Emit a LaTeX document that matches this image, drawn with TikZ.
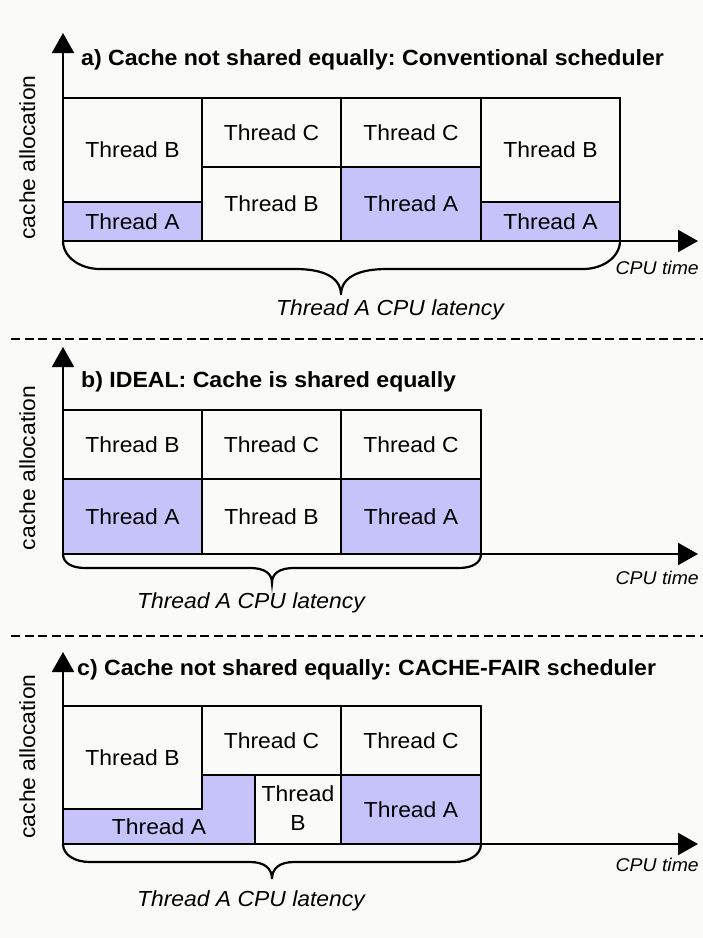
\documentclass[tikz,border=0pt]{standalone}
\usepackage{fontspec}
\setmainfont{Liberation Sans}[FakeStretch=1.05]
\usetikzlibrary{arrows.meta}
\definecolor{bgpaper}{RGB}{250,250,248}
\definecolor{cachefill}{RGB}{198,195,250}
\frenchspacing
\begin{document}
\begin{tikzpicture}[x=1pt,y=-1pt,
  slot/.style={draw=black, line width=2.2pt},
  afill/.style={fill=cachefill},
  lbl/.style={font=\fontsize{21.8}{29}\selectfont, inner sep=0pt, align=center},
  ttl/.style={font=\fontsize{22}{26}\selectfont\bfseries, anchor=base west, inner sep=0pt},
  ylbl/.style={font=\fontsize{21.8}{26}\selectfont, rotate=90, anchor=base, inner sep=0pt},
  tlbl/.style={font=\fontsize{18.5}{22}\selectfont\itshape, anchor=east, inner sep=0pt},
  latlbl/.style={font=\fontsize{21.8}{26}\selectfont\itshape, inner sep=0pt},
  axis/.style={line width=2.2pt, -{Triangle[length=20pt,width=22pt]}},
  bracepath/.style={line width=2.2pt},
  sep/.style={line width=2.2pt, dash pattern=on 9pt off 4.5pt}
]
\useasboundingbox (0,0) rectangle (703,938);
\fill[bgpaper] (0,0) rectangle (703,938);

% ---------- a) conventional scheduler ----------
\draw[slot] (63,98) rectangle (202,202);
\draw[slot,afill] (63,202) rectangle (202,241);
\draw[slot] (202,98) rectangle (341,167);
\draw[slot] (202,167) rectangle (341,241);
\draw[slot] (341,98) rectangle (481,167);
\draw[slot,afill] (341,167) rectangle (481,241);
\draw[slot] (481,98) rectangle (620,202);
\draw[slot,afill] (481,202) rectangle (620,241);

\node[lbl] (aB1) at (132.5,150) {Thread B};
\node[lbl] (aA1) at (132.5,221.5) {Thread A};
\node[lbl] (aC2) at (271.5,132.5) {Thread C};
\node[lbl] (aB2) at (271.5,204) {Thread B};
\node[lbl] (aC3) at (411,132.5) {Thread C};
\node[lbl] (aA3) at (411,204) {Thread A};
\node[lbl] (aB4) at (550.5,150) {Thread B};
\node[lbl] (aA4) at (550.5,221.5) {Thread A};

\coordinate (aO) at (63,241);
\coordinate (aY) at (63,33);
\coordinate (aX) at (698,241);
\draw[axis] (aO) -- (aY);
\draw[axis] (aO) -- (aX);

\node[ttl] (aT) at (81,65.5) {a) Cache not shared equally: Conventional scheduler};
\node[ylbl] (aYL) at (35,157.5) {cache allocation};
\node[tlbl] (aCT) at (699,268) {CPU time};

\draw[bracepath] (63,241) .. controls (63,257) and (80,269) .. (100,269) -- (295,269)
  .. controls (325,269) and (341,278) .. (341,295)
  .. controls (341,278) and (357,269) .. (387,269) -- (583,269)
  .. controls (603,269) and (620,257) .. (620,241);
\node[latlbl] (aLat) at (390,310) {Thread A CPU latency};

\draw[sep] (11,339) -- (703,339);

% ---------- b) ideal sharing ----------
\draw[slot] (63,410) rectangle (202,479);
\draw[slot,afill] (63,479) rectangle (202,554);
\draw[slot] (202,410) rectangle (341,479);
\draw[slot] (202,479) rectangle (341,554);
\draw[slot] (341,410) rectangle (481,479);
\draw[slot,afill] (341,479) rectangle (481,554);

\node[lbl] (bB1) at (132.5,444.5) {Thread B};
\node[lbl] (bA1) at (132.5,516.5) {Thread A};
\node[lbl] (bC2) at (271.5,444.5) {Thread C};
\node[lbl] (bB2) at (271.5,516.5) {Thread B};
\node[lbl] (bC3) at (411,444.5) {Thread C};
\node[lbl] (bA3) at (411,516.5) {Thread A};

\coordinate (bO) at (63,554);
\coordinate (bY) at (63,347);
\coordinate (bX) at (698,554);
\draw[axis] (bO) -- (bY);
\draw[axis] (bO) -- (bX);

\node[ttl] (bT) at (81,387) {b) IDEAL: Cache is shared equally};
\node[ylbl] (bYL) at (35,468) {cache allocation};
\node[tlbl] (bCT) at (699,578) {CPU time};

\draw[bracepath] (63,554) .. controls (63,563) and (72,568) .. (85,568) -- (250,568)
  .. controls (264,568) and (272,573) .. (272,583)
  .. controls (272,573) and (280,568) .. (294,568) -- (459,568)
  .. controls (472,568) and (481,563) .. (481,554);
\node[latlbl] (bLat) at (251,603) {Thread A CPU latency};

\draw[sep] (11,636) -- (703,636);

% ---------- c) cache-fair scheduler ----------
\draw[slot] (63,706) rectangle (202,809);
\draw[slot,afill] (63,844) -- (255,844) -- (255,775) -- (202,775) -- (202,809) -- (63,809) -- cycle;
\draw[slot] (202,706) rectangle (341,775);
\draw[slot] (255,775) rectangle (341,844);
\draw[slot] (341,706) rectangle (481,775);
\draw[slot,afill] (341,775) rectangle (481,844);

\node[lbl] (cB1) at (132.5,757.5) {Thread B};
\node[lbl] (cA1) at (159,826.5) {Thread A};
\node[lbl] (cC2) at (271.5,740.5) {Thread C};
\node[lbl] (cB2) at (298,808) {Thread\\B};
\node[lbl] (cC3) at (411,740.5) {Thread C};
\node[lbl] (cA3) at (411,809.5) {Thread A};

\coordinate (cO) at (63,844);
\coordinate (cY) at (63,652);
\coordinate (cX) at (698,844);
\draw[axis] (cO) -- (cY);
\draw[axis] (cO) -- (cX);

\node[ttl] (cT) at (77,675) {c) Cache not shared equally: CACHE-FAIR scheduler};
\node[ylbl] (cYL) at (35,756.5) {cache allocation};
\node[tlbl] (cCT) at (699,865) {CPU time};

\draw[bracepath] (63,844) .. controls (63,855) and (75,862) .. (90,862) -- (250,862)
  .. controls (264,862) and (272,868) .. (272,879)
  .. controls (272,868) and (280,862) .. (294,862) -- (454,862)
  .. controls (469,862) and (481,855) .. (481,844);
\node[latlbl] (cLat) at (251,901) {Thread A CPU latency};
\end{tikzpicture}
\end{document}
